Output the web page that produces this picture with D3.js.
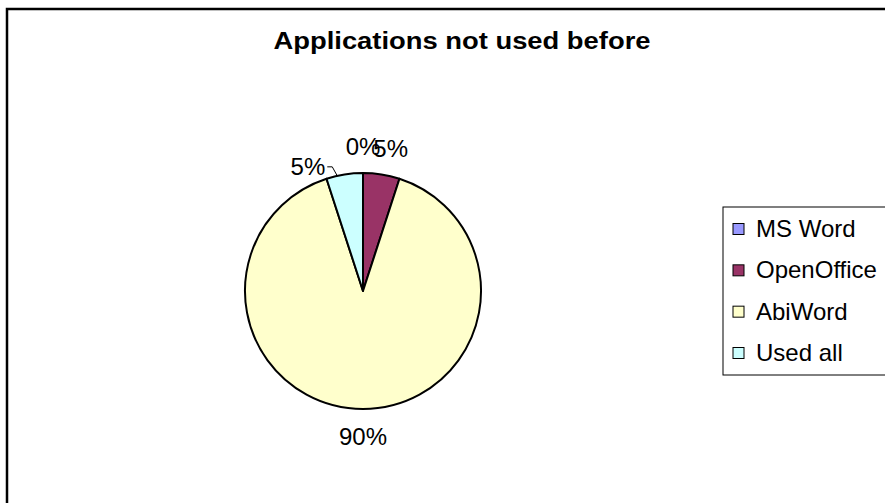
<!DOCTYPE html>
<html lang="en">
<head>
    <meta charset="utf-8">
    <title>Applications not used before</title>
    <style>
        body { margin: 0; background: #fff; }
        svg text { font-family: "Liberation Sans", Arial, sans-serif; fill: #000; }
    </style>
</head>
<body>
<div id="chart"></div>
<script src="https://cdn.jsdelivr.net/npm/d3@7"></script>
<script>
    // chart data
    var categories = ["MS Word", "OpenOffice", "AbiWord", "Used all"];
    var values = [0, 1, 18, 1];
    var labels = ["0%", "5%", "90%", "5%"];
    var colors = ["#9999FF", "#993366", "#FFFFCC", "#CCFFFF"];
    var title = "Applications not used before";

    var width = 885, height = 503;
    var cx = 363, cy = 291, radius = 118;

    var svg = d3.select("#chart").append("svg")
        .attr("width", width)
        .attr("height", height);

    // outer chart frame (runs past the right and bottom edge)
    svg.append("rect")
        .attr("x", 7).attr("y", 9)
        .attr("width", width + 20).attr("height", height + 20)
        .attr("fill", "#fff")
        .attr("stroke", "#000")
        .attr("stroke-width", 2.5);

    svg.append("text")
        .attr("x", 462)
        .attr("y", 49)
        .attr("text-anchor", "middle")
        .attr("textLength", 377)
        .attr("lengthAdjust", "spacingAndGlyphs")
        .style("font-size", "23px")
        .style("font-weight", "bold")
        .text(title);

    var rows = categories.map((c, i) => ({name: c, value: values[i], label: labels[i], color: colors[i]}));

    var pie = d3.pie().sort(null).value(d => d.value);
    var arcs = pie(rows);
    var arc = d3.arc().innerRadius(0).outerRadius(radius);

    var g = svg.append("g").attr("transform", "translate(" + cx + "," + cy + ")");

    g.selectAll("path.slice")
        .data(arcs)
        .enter()
        .append("path")
        .attr("class", "slice")
        .attr("d", arc)
        .attr("fill", d => d.data.color)
        .attr("stroke", "#000")
        .attr("stroke-width", 2)
        .attr("stroke-linejoin", "round");

    // data labels, outside the pie
    var labelR = 145;
    arcs.forEach(function(d, i) {
        var a = (d.startAngle + d.endAngle) / 2;
        if (i === arcs.length - 1) {
            // this one was pushed aside and gets a leader line
            var la = d.startAngle + 0.3 * (d.endAngle - d.startAngle);
            var px = Math.sin(la) * radius, py = -Math.cos(la) * radius;
            var ex = px - 5, ey = py - 9;
            var hx = ex - 5;
            g.append("polyline")
                .attr("points", [[px, py], [ex, ey], [hx, ey]].map(p => p.join(",")).join(" "))
                .attr("fill", "none")
                .attr("stroke", "#000")
                .attr("stroke-width", 1);
            g.append("text")
                .attr("x", hx - 2)
                .attr("y", ey + 8)
                .attr("text-anchor", "end")
                .style("font-size", "24px")
                .text(d.data.label);
        } else {
            var lx = Math.sin(a) * labelR, ly = -Math.cos(a) * labelR;
            if (Math.sin(a) > 0.05) lx += 5;
            g.append("text")
                .attr("x", lx)
                .attr("y", ly + 9)
                .attr("text-anchor", "middle")
                .style("font-size", "24px")
                .text(d.data.label);
        }
    });

    // legend
    var legend = svg.append("g").attr("transform", "translate(723,207)");
    legend.append("rect")
        .attr("x", 0).attr("y", 0)
        .attr("width", 200).attr("height", 168)
        .attr("fill", "#fff")
        .attr("stroke", "#000")
        .attr("stroke-width", 1);

    var ly = d3.scalePoint().domain(categories).range([22, 146]);

    var item = legend.selectAll("g.item")
        .data(rows)
        .enter()
        .append("g")
        .attr("class", "item")
        .attr("transform", d => "translate(0," + ly(d.name) + ")");

    item.append("rect")
        .attr("x", 10).attr("y", -5.5)
        .attr("width", 11).attr("height", 11)
        .attr("fill", d => d.color)
        .attr("stroke", "#000")
        .attr("stroke-width", 1);

    item.append("text")
        .attr("x", 33)
        .attr("y", 8)
        .style("font-size", "24px")
        .text(d => d.name);
</script>
</body>
</html>
